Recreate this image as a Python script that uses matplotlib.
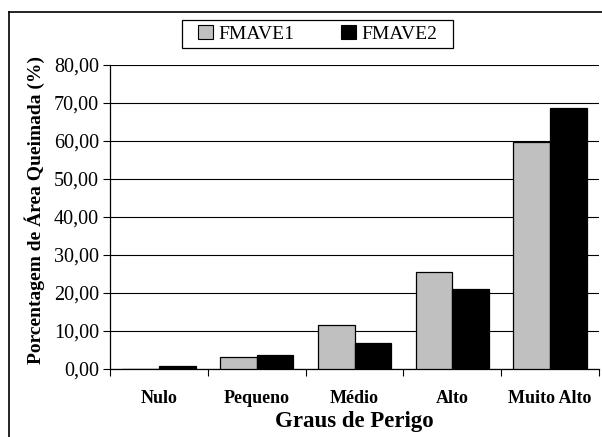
import numpy as np
import matplotlib.pyplot as plt
from matplotlib.patches import Patch, Rectangle
from matplotlib.lines import Line2D

categories = ['Nulo', 'Pequeno', 'Médio', 'Alto', 'Muito Alto']
fmave1 = [0.0, 3.2, 11.5, 25.5, 59.7]
fmave2 = [0.8, 3.6, 6.8, 21.0, 68.8]
series_names = ['FMAVE1', 'FMAVE2']
series_colors = ['#C0C0C0', '#000000']
yticks = np.arange(0, 81, 10)

plt.rcParams['font.family'] = ['Liberation Serif', 'DejaVu Serif']

fig = plt.figure(figsize=(6.02, 4.37), dpi=100)
ax = fig.add_axes([110 / 602, 1 - 369 / 437, (599 - 110) / 602, (369 - 65) / 437])

x = np.arange(len(categories))
w = 0.375
ax.bar(x - w / 2, fmave1, width=w, color=series_colors[0], edgecolor='black', linewidth=0.9, zorder=3)
ax.bar(x + w / 2, fmave2, width=w, color=series_colors[1], edgecolor='black', linewidth=0.9, zorder=3)

ax.set_xlim(-0.5, len(categories) - 0.5)
ax.set_ylim(0, 80)
ax.set_yticks(yticks)
ax.set_yticklabels([f'{v:.2f}'.replace('.', ',') for v in yticks], fontsize=14.5)
ax.yaxis.grid(True, color='black', linewidth=0.8, zorder=0)
ax.tick_params(axis='y', direction='out', length=5, width=0.8, pad=3)

# boundaries as ticks, names at centres
ax.set_xticks(np.arange(len(categories) + 1) - 0.5)
ax.set_xticklabels([])
ax.tick_params(axis='x', which='major', direction='out', length=5, width=0.8)
ax.set_xticks(x, minor=True)
ax.set_xticklabels(categories, minor=True, fontsize=13, fontweight='bold')
ax.tick_params(axis='x', which='minor', length=0, pad=15)

for s in ['top', 'right']:
    ax.spines[s].set_visible(False)
for s in ['left', 'bottom']:
    ax.spines[s].set_linewidth(0.9)

ax.set_xlabel('Graus de Perigo', fontsize=16.5, fontweight='bold', labelpad=3)
fig.text(35 / 602, 1 - 210 / 437, 'Porcentagem de Área Queimada (%)', rotation=90,
         fontsize=14, fontweight='bold', ha='center', va='center')

# legend box drawn separately so it can be wider than its content
fig.add_artist(Rectangle((182 / 602, 1 - 48 / 437), (453 - 182) / 602, 28 / 437,
                         transform=fig.transFigure, facecolor='white', edgecolor='black',
                         linewidth=0.9))
handles = [Patch(facecolor=c, edgecolor='black', linewidth=0.8) for c in series_colors]
fig.legend(handles, series_names, loc='center', bbox_to_anchor=(318 / 602, 1 - 34 / 437),
           ncol=2, fontsize=14, frameon=False,
           handlelength=0.75, handleheight=0.75, handletextpad=0.3, columnspacing=2.4,
           borderpad=0.2, borderaxespad=0)

# outer chart-area frame (left and top edges visible)
fig.add_artist(Line2D([9 / 602, 9 / 602], [0, 1 - 12 / 437], color='black', linewidth=1.2,
                      transform=fig.transFigure))
fig.add_artist(Line2D([9 / 602, 1], [1 - 12 / 437, 1 - 12 / 437], color='black', linewidth=1.2,
                      transform=fig.transFigure))

fig.savefig('out.png', dpi=100)
plt.close(fig)
